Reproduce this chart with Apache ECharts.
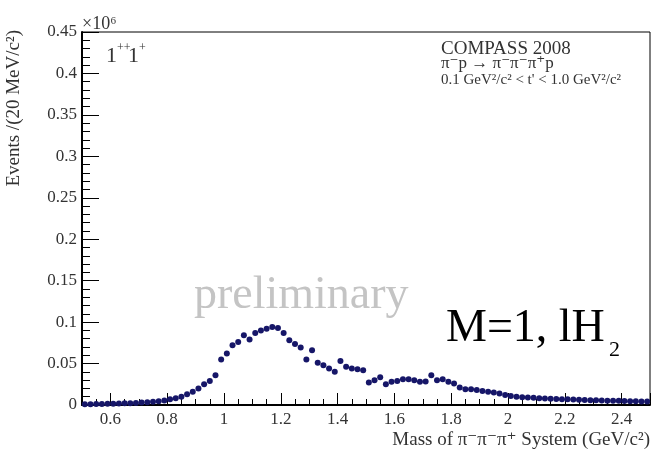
<!DOCTYPE html>
<html><head><meta charset="utf-8">
<script src="https://cdn.jsdelivr.net/npm/echarts@6/dist/echarts.min.js"></script>
<style>html,body{margin:0;padding:0;background:#fff}#c{width:654px;height:452px}</style>
</head><body><div id="c"></div>
<script>
// bin centres (GeV/c^2), 20 MeV bins
const massBins = [0.51,0.53,0.55,0.57,0.59,0.61,0.63,0.65,0.67,0.69,0.71,0.73,0.75,0.77,0.79,0.81,0.83,0.85,0.87,0.89,0.91,0.93,0.95,0.97,0.99,
1.01,1.03,1.05,1.07,1.09,1.11,1.13,1.15,1.17,1.19,1.21,1.23,1.25,1.27,1.29,1.31,1.33,1.35,1.37,1.39,1.41,1.43,1.45,1.47,1.49,
1.51,1.53,1.55,1.57,1.59,1.61,1.63,1.65,1.67,1.69,1.71,1.73,1.75,1.77,1.79,1.81,1.83,1.85,1.87,1.89,1.91,1.93,1.95,1.97,1.99,
2.01,2.03,2.05,2.07,2.09,2.11,2.13,2.15,2.17,2.19,2.21,2.23,2.25,2.27,2.29,2.31,2.33,2.35,2.37,2.39,2.41,2.43,2.45,2.47,2.49];
// events (x10^6)
const events = [0.001,0.001,0.0012,0.0012,0.0015,0.0015,0.0018,0.002,0.002,0.0025,0.003,0.0032,0.004,0.0045,0.0055,0.0068,0.008,0.010,0.013,0.016,0.020,0.025,0.029,0.036,0.055,
0.062,0.072,0.076,0.084,0.079,0.087,0.090,0.092,0.094,0.093,0.087,0.078,0.0735,0.0695,0.055,0.066,0.051,0.048,0.044,0.040,0.053,0.046,0.044,0.043,0.042,
0.027,0.030,0.0335,0.025,0.028,0.029,0.031,0.031,0.030,0.028,0.0285,0.036,0.030,0.031,0.028,0.026,0.021,0.019,0.019,0.018,0.017,0.016,0.015,0.014,0.012,
0.011,0.010,0.0095,0.009,0.0088,0.0082,0.0078,0.0075,0.0072,0.007,0.0068,0.0065,0.0062,0.006,0.0058,0.0056,0.0055,0.0052,0.005,0.005,0.0048,0.0046,0.0045,0.0043,0.0042];
const xRange = [0.5, 2.5];
const yRange = [0, 0.45];
const yStep = 0.05;

const serif = '"Liberation Serif", "DejaVu Serif", serif';
const chart = echarts.init(document.getElementById('c'));
function t(x, y, text, size, fill, align, extra) {
  return Object.assign({type: 'text', x: x, y: y, style: {text: text, font: size + 'px ' + serif, fill: fill, align: align || 'left', verticalAlign: 'middle'}}, extra || {});
}
chart.setOption({
  animation: false,
  backgroundColor: '#fff',
  grid: {left: 82, right: 4, top: 32, bottom: 47, show: true, borderColor: '#000', borderWidth: 1, backgroundColor: 'transparent'},
  xAxis: {
    type: 'value', min: xRange[0], max: xRange[1], splitNumber: 10,
    axisLine: {show: true, lineStyle: {color: '#000', width: 2}},
    axisTick: {show: true, inside: true, length: 12, lineStyle: {color: '#000', width: 1}},
    minorTick: {show: true, splitNumber: 4, length: 6, lineStyle: {color: '#000', width: 1}},
    axisLabel: {show: true, color: '#333', fontFamily: serif, fontSize: 17, margin: 6,
      formatter: v => (Math.abs(Math.round(v*5) - v*5) < 1e-6 ? String(+v.toFixed(1)) : '')},
    splitLine: {show: false}
  },
  yAxis: {
    type: 'value', min: yRange[0], max: yRange[1], interval: yStep,
    axisLine: {show: true, lineStyle: {color: '#000', width: 2}},
    axisTick: {show: true, inside: true, length: 17, lineStyle: {color: '#000', width: 1}},
    minorTick: {show: true, splitNumber: 5, length: 8, lineStyle: {color: '#000', width: 1}},
    axisLabel: {color: '#333', fontFamily: serif, fontSize: 17, margin: 5, formatter: v => String(+v.toFixed(2))},
    splitLine: {show: false}
  },
  series: [{
    type: 'scatter',
    data: massBins.map((m, i) => [m, events[i]]),
    symbol: 'circle', symbolSize: 6,
    itemStyle: {color: '#161668', opacity: 1}
  }],
  graphic: [
    t(14, 30, 'Events /(20 MeV/c²)', 19, '#333', 'right', {rotation: Math.PI/2}),
    t(82, 24, '×10⁶', 18, '#333'),
    t(106, 56, '1', 22, '#333'),
    t(117, 48, '++', 12, '#333'),
    t(128, 56, '1', 22, '#333'),
    t(139, 48, '+', 12, '#333'),
    t(441, 49, 'COMPASS 2008', 19, '#333'),
    t(441, 64, 'π⁻p → π⁻π⁻π⁺p', 17, '#333'),
    t(441, 80, "0.1 GeV²/c² < t' < 1.0 GeV²/c²", 15, '#333'),
    t(194, 296, 'preliminary', 46, '#c4c4c4'),
    t(446, 329, 'M=1, lH', 46, '#000'),
    t(609, 350, '2', 22, '#000'),
    t(650, 440, 'Mass of π⁻π⁻π⁺ System (GeV/c²)', 19, '#333', 'right')
  ]
});
</script></body></html>
